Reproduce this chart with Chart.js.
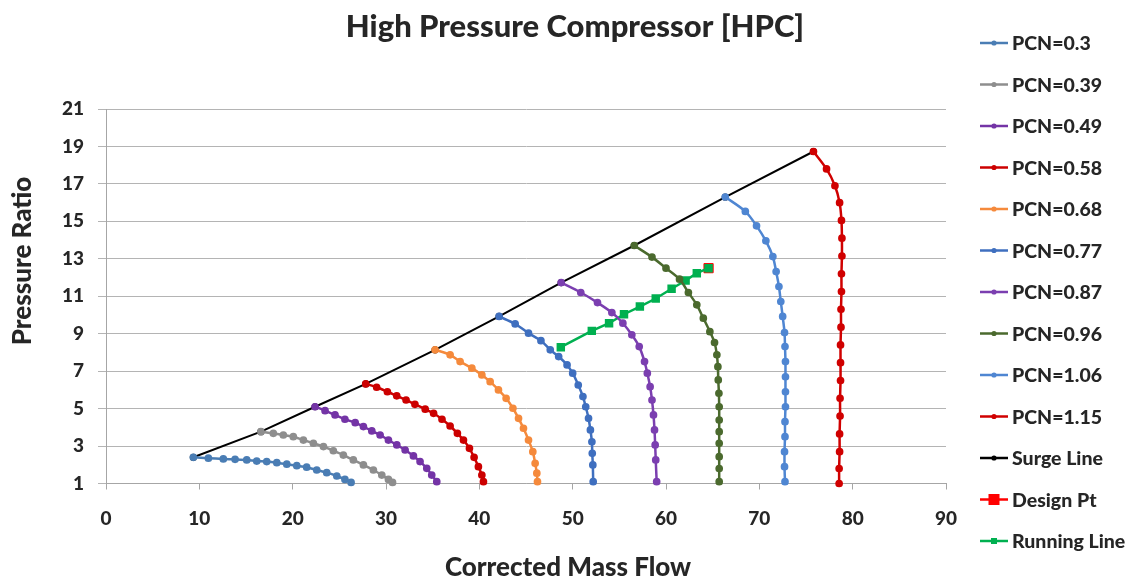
<!DOCTYPE html>
<html>
<head>
<meta charset="utf-8">
<script src="https://cdn.jsdelivr.net/npm/chart.js@4.4.1/dist/chart.umd.min.js"></script>
<style>
  html, body { margin: 0; padding: 0; background: #fff; }
  #wrap { width: 1140px; height: 583px; }
</style>
</head>
<body>
<div id="wrap"><canvas id="hpc-chart"></canvas></div>
<script>
// Speed lines: [corrected mass flow, pressure ratio]
const pcn030 = [[9.36,2.4],[10.97,2.35],[12.57,2.31],[13.83,2.29],[15.08,2.26],[16.15,2.2],[17.22,2.17],[18.3,2.11],[19.37,2.03],[20.44,1.95],[21.5,1.87],[22.58,1.72],[23.65,1.58],[24.73,1.4],[25.6,1.22],[26.26,1.06]];
const pcn039 = [[16.6,3.77],[17.93,3.68],[19.0,3.59],[20.07,3.5],[21.15,3.32],[22.22,3.15],[23.3,2.97],[24.36,2.75],[25.43,2.52],[26.5,2.26],[27.58,1.99],[28.65,1.72],[29.55,1.45],[30.26,1.22],[30.7,1.06]];
const pcn049 = [[22.4,5.1],[23.47,4.89],[24.54,4.66],[25.6,4.43],[26.7,4.25],[27.58,4.04],[28.48,3.81],[29.37,3.59],[30.26,3.32],[31.16,3.06],[32.05,2.79],[32.94,2.47],[33.65,2.17],[34.37,1.81],[34.9,1.45],[35.44,1.1]];
const pcn058 = [[27.83,6.32],[29.0,6.14],[30.15,5.9],[31.15,5.68],[32.15,5.46],[33.1,5.23],[34.2,4.97],[35.1,4.75],[36.0,4.43],[36.87,4.07],[37.65,3.68],[38.3,3.32],[38.94,2.88],[39.44,2.4],[39.9,1.9],[40.27,1.45],[40.44,1.1]];
const pcn068 = [[35.26,8.14],[36.87,7.87],[37.94,7.51],[39.2,7.16],[40.27,6.8],[41.16,6.44],[42.05,6.0],[42.87,5.55],[43.6,5.02],[44.2,4.48],[44.73,3.95],[45.27,3.32],[45.73,2.7],[45.98,2.08],[46.16,1.55],[46.23,1.1]];
const pcn077 = [[42.12,9.92],[43.84,9.52],[45.27,9.03],[46.6,8.63],[47.6,8.14],[48.5,7.78],[49.4,7.33],[50.0,6.89],[50.6,6.26],[51.1,5.64],[51.4,5.1],[51.7,4.48],[51.9,3.86],[52.06,3.23],[52.1,2.61],[52.16,1.99],[52.2,1.1]];
const pcn087 = [[48.77,11.73],[50.87,11.2],[52.66,10.66],[54.2,10.13],[55.38,9.56],[56.34,8.94],[57.13,8.31],[57.7,7.51],[58.0,6.89],[58.3,6.17],[58.5,5.46],[58.66,4.66],[58.77,3.86],[58.84,3.06],[58.9,2.26],[59.0,1.1]];
const pcn096 = [[56.6,13.71],[58.5,13.09],[60.0,12.5],[61.45,11.91],[62.4,11.2],[63.3,10.54],[64.0,9.83],[64.7,9.11],[65.2,8.53],[65.45,7.87],[65.56,7.24],[65.6,6.53],[65.67,5.82],[65.7,5.1],[65.7,4.39],[65.7,3.77],[65.7,3.15],[65.7,2.43],[65.7,1.8],[65.7,1.1]];
const pcn106 = [[66.35,16.3],[68.5,15.53],[69.7,14.76],[70.7,13.96],[71.45,13.12],[71.8,12.32],[72.1,11.52],[72.3,10.72],[72.5,9.92],[72.7,9.06],[72.75,8.31],[72.8,7.51],[72.8,6.7],[72.8,5.9],[72.8,5.1],[72.75,4.3],[72.75,3.5],[72.7,2.7],[72.7,1.9],[72.75,1.1]];
const pcn115 = [[75.8,18.73],[77.2,17.8],[78.1,16.9],[78.6,16.0],[78.8,15.05],[78.85,14.1],[78.85,13.15],[78.8,12.2],[78.8,11.25],[78.75,10.3],[78.75,9.35],[78.7,8.4],[78.7,7.45],[78.7,6.5],[78.65,5.55],[78.65,4.6],[78.6,3.65],[78.6,2.7],[78.55,1.8],[78.55,1.0]];
const surgeLine = [[9.36,2.4],[16.6,3.77],[22.4,5.1],[27.83,6.32],[35.26,8.14],[42.12,9.92],[48.77,11.73],[56.6,13.71],[66.35,16.3],[75.8,18.73]];
const designPt = [[64.56,12.5]];
const runningLine = [[48.73,8.28],[52.05,9.15],[53.9,9.56],[55.5,10.04],[57.2,10.45],[58.9,10.88],[60.6,11.4],[62.1,11.84],[63.3,12.23],[64.56,12.5]];

const xTicks = [0, 10, 20, 30, 40, 50, 60, 70, 80, 90];
const yTicks = [1, 3, 5, 7, 9, 11, 13, 15, 17, 19, 21];

const FONT = 'Lato';
const TEXT = '#262626';

function pts(arr) {
    return arr.map(p => ({x: p[0], y: p[1]}));
}

function speedLine(label, arr, color) {
    return {
        label: label,
        data: pts(arr),
        showLine: true,
        borderColor: color,
        backgroundColor: color,
        borderWidth: 2.5,
        pointRadius: 2.6,
        pointHoverRadius: 2.6,
        tension: 0.3,
        clip: false,
        order: 0
    };
}

let datasets = [
    speedLine('PCN=0.3', pcn030, '#4a7db4'),
    speedLine('PCN=0.39', pcn039, '#8e8e8e'),
    speedLine('PCN=0.49', pcn049, '#7434a6'),
    speedLine('PCN=0.58', pcn058, '#cc0000'),
    speedLine('PCN=0.68', pcn068, '#f58a3c'),
    speedLine('PCN=0.77', pcn077, '#3f6fbf'),
    speedLine('PCN=0.87', pcn087, '#7b3fb0'),
    speedLine('PCN=0.96', pcn096, '#4b6a2e'),
    speedLine('PCN=1.06', pcn106, '#4f86d2'),
    speedLine('PCN=1.15', pcn115, '#d00000'),
    {
        label: 'Surge Line',
        data: pts(surgeLine),
        showLine: true,
        borderColor: '#000000',
        backgroundColor: '#000000',
        borderWidth: 2,
        pointRadius: 2.6,
        tension: 0,
        clip: false,
        order: 0
    },
    {
        label: 'Design Pt',
        data: pts(designPt),
        showLine: false,
        borderColor: '#ff0000',
        backgroundColor: '#ff0000',
        pointStyle: 'rect',
        pointRadius: 6.5,
        clip: false,
        order: 1
    },
    {
        label: 'Running Line',
        data: pts(runningLine),
        showLine: true,
        borderColor: '#00b050',
        backgroundColor: '#00b050',
        borderWidth: 2.5,
        pointStyle: 'rect',
        pointRadius: 4.2,
        tension: 0,
        clip: false,
        order: 0
    }
];

// chart title, axis titles + Excel style legend drawn straight on the canvas
const decor = {
    id: 'decor',
    afterDraw(chart) {
        const ctx = chart.ctx;
        ctx.save();
        ctx.fillStyle = TEXT;
        ctx.textBaseline = 'middle';
        ctx.textAlign = 'center';
        ctx.font = '900 31px ' + FONT;
        ctx.fillText('High Pressure Compressor [HPC]', 575, 27);
        ctx.font = '900 26px ' + FONT;
        ctx.fillText('Corrected Mass Flow', 568, 568);
        ctx.save();
        ctx.translate(23, 261);
        ctx.rotate(-Math.PI / 2);
        ctx.fillText('Pressure Ratio', 0, 0);
        ctx.restore();

        ctx.textAlign = 'left';
        ctx.font = '900 19.5px ' + FONT;
        chart.data.datasets.forEach((ds, i) => {
            const y = 43 + i * 41.5;
            ctx.strokeStyle = ds.borderColor;
            ctx.lineWidth = 2.5;
            ctx.beginPath();
            ctx.moveTo(980, y);
            ctx.lineTo(1008, y);
            ctx.stroke();
            ctx.fillStyle = ds.backgroundColor;
            if (ds.pointStyle === 'rect') {
                const s = ds.label === 'Design Pt' ? 11 : 6;
                ctx.fillRect(994 - s / 2, y - s / 2, s, s);
            } else {
                ctx.beginPath();
                ctx.arc(994, y, 2.6, 0, Math.PI * 2);
                ctx.fill();
            }
            ctx.fillStyle = TEXT;
            ctx.fillText(ds.label, 1012, y + 1);
        });
        ctx.restore();
    }
};

let hpcOptions = {
    responsive: true,
    maintainAspectRatio: false,
    animation: false,
    layout: {
        padding: {left: 0, right: 194, top: 109, bottom: 0}
    },
    plugins: {
        legend: { display: false },
        tooltip: { enabled: false },
        title: { display: false }
    },
    scales: {
        x: {
            type: 'linear',
            min: 0,
            max: 90,
            afterFit(scale) { scale.height = 99.5; },
            afterBuildTicks(scale) { scale.ticks = xTicks.map(v => ({value: v})); },
            grid: { drawOnChartArea: false, drawTicks: true, tickLength: 6, color: '#a6a6a6' },
            border: { display: true, color: '#a6a6a6' },
            ticks: { color: TEXT, padding: 18, font: { family: FONT, size: 19, weight: '900' } }
        },
        y: {
            type: 'linear',
            min: 1,
            max: 21,
            afterFit(scale) { scale.width = 106; },
            afterBuildTicks(scale) { scale.ticks = yTicks.map(v => ({value: v})); },
            grid: { color: '#b4b4b4', drawTicks: true, tickLength: 8 },
            border: { display: true, color: '#a6a6a6' },
            ticks: { color: TEXT, padding: 14, font: { family: FONT, size: 19, weight: '900' } }
        }
    }
};

let hpcChart = new Chart(document.getElementById('hpc-chart'), {
    type: 'scatter',
    data: { datasets: datasets },
    options: hpcOptions,
    plugins: [decor]
});
</script>
</body>
</html>
